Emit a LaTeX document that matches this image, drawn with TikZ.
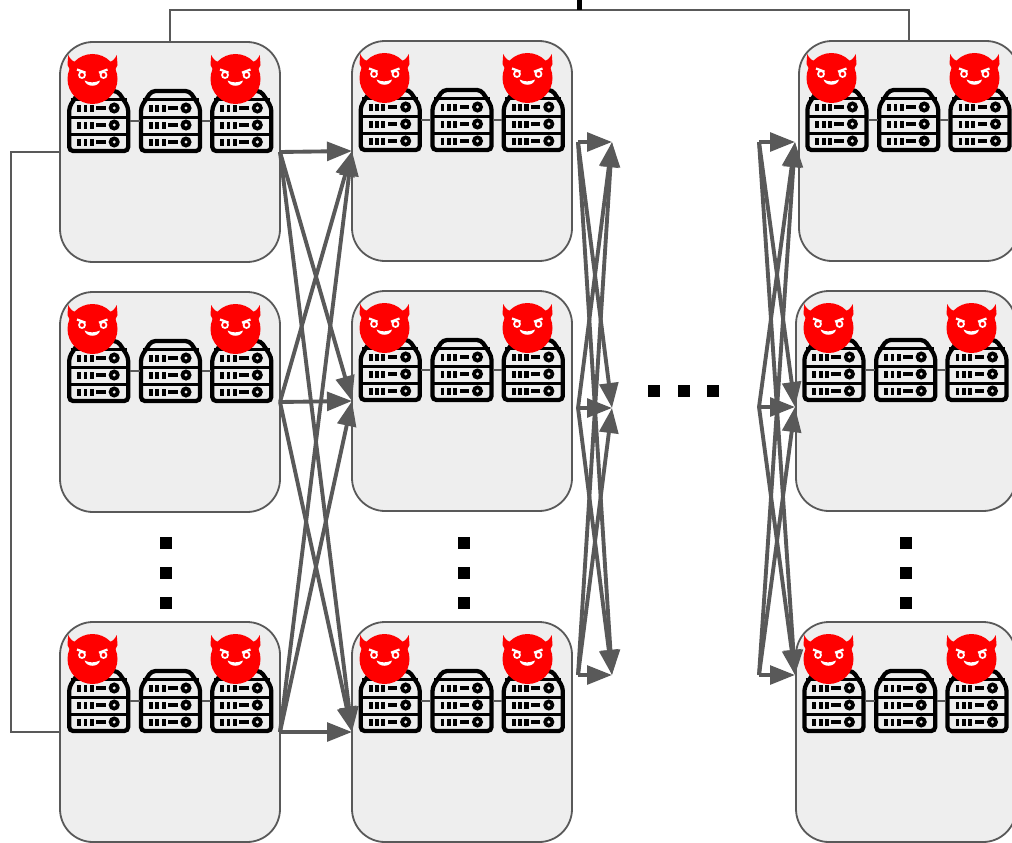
\documentclass[tikz,border=0pt]{standalone}
\usetikzlibrary{arrows.meta}
\definecolor{edgegray}{HTML}{595959}
\definecolor{boxfill}{HTML}{EEEEEE}
\tikzset{
  x=0.75pt, y=-0.75pt,
  cluster/.style={draw=edgegray, fill=boxfill, line width=1.35pt, rounded corners=24.75pt,
    minimum width=165pt, minimum height=165pt, inner sep=0pt, outer sep=0pt},
  thinlink/.style={draw=edgegray, line width=1.35pt},
  flow/.style={draw=edgegray, line width=2.9pt,
    -{Triangle[length=18.75pt,width=14pt,fill=edgegray]}},
  dotmark/.style={fill=black, minimum size=9pt, inner sep=0pt, outer sep=0pt},
  server/.pic={
    \node[minimum width=46.5pt, minimum height=47.5pt, inner sep=0pt, outer sep=0pt] (-box) at (0,0) {};
    \draw[black, line width=3.2pt, rounded corners=3pt]
      (-29.5,-14) -- (-19,-30) -- (19,-30) -- (29.5,-14) -- (29.5,30) -- (-29.5,30) -- cycle;
    \draw[black, line width=2.6pt] (-28,-21.5) -- (28,-21.5);
    \draw[black, line width=2.8pt] (-29.5,-3.5) -- (29.5,-3.5);
    \draw[black, line width=2.8pt] (-29.5,13.5) -- (29.5,13.5);
    \foreach \ry in {-13,4,21}{
      \fill[black] (-21.5,\ry-3.5) rectangle ++(3.8,7);
      \fill[black] (-15.2,\ry-3.5) rectangle ++(3.8,7);
      \fill[black] (-9,\ry-3.5) rectangle ++(4.2,7);
      \fill[black] (-2.5,\ry-1.8) rectangle ++(9.5,3.6);
      \fill[black] (15.5,\ry) circle[radius=5.6];
      \fill[boxfill] (15.5,\ry) circle[radius=1.7];
    }
  },
  devil/.pic={
    \fill[red] (0,0) circle[radius=25];
    \fill[red] (-22.5,-9) -- (-25,-14) -- (-24.3,-24) .. controls (-22.5,-20.5) and (-21,-18.5) .. (-17.5,-17) -- cycle;
    \fill[red] (22.5,-9) -- (25,-14) -- (24.3,-24) .. controls (22.5,-20.5) and (21,-18.5) .. (17.5,-17) -- cycle;
    \draw[white, line width=1.3pt] (-10.5,-4) circle[radius=3];
    \draw[white, line width=1.3pt] (11,-4) circle[radius=3];
    \draw[white, line width=1.7pt] (-15.5,-9.5) -- (-7,-6.3);
    \draw[white, line width=1.7pt] (15,-9.5) -- (6.5,-6.3);
    \fill[white] (-8,1.5) .. controls (-3,4) and (2,4) .. (7.5,1.5) .. controls (6,8.5) and (-6,8.5) .. (-8,1.5) -- cycle;
  }
}
\begin{document}
\begin{tikzpicture}
\clip (0,0) rectangle (1012,842);
\fill[white] (0,0) rectangle (1012,842);

% clusters
\node[cluster] (c11) at (170,152) {};
\node[cluster] (c12) at (170,402) {};
\node[cluster] (c13) at (170,732) {};
\node[cluster] (c21) at (462,151) {};
\node[cluster] (c22) at (462,401) {};
\node[cluster] (c23) at (462,732) {};
\node[cluster] (c31) at (909,151) {};
\node[cluster] (c32) at (906,401) {};
\node[cluster] (c33) at (906,732) {};

% thin links outside the clusters
\coordinate (topa) at (170,10);
\coordinate (topb) at (909,10);
\coordinate (lefta) at (11,152);
\coordinate (leftb) at (11,732);
\draw[thinlink] (c11.north) -- (topa) -- (topb) -- (c31.north);
\draw[thinlink] (c11.west) -- (lefta) -- (leftb) -- (c13.west);
\node[fill=black, minimum width=4.2pt, minimum height=7.5pt, inner sep=0pt, outer sep=0pt] (topbar) at (579.5,5) {};

% servers and devils
\foreach \n/\sx/\cy/\dx in {
  c11/170.5/152/170, c12/170.5/402/170, c13/170.5/732/170,
  c21/462/151/462, c22/462/401/462, c23/462/732/462,
  c31/908.7/151/909, c32/905.7/401/906, c33/905.7/732/906}{
  \pic (\n a) at ({\sx-71.8},{\cy-31}) {server};
  \pic (\n b) at ({\sx},{\cy-31}) {server};
  \pic (\n c) at ({\sx+71.3},{\cy-31}) {server};
  \draw[thinlink] (\n a-box) -- (\n b-box);
  \draw[thinlink] (\n b-box) -- (\n c-box);
  \pic at ({\dx-77.5},{\cy-73}) {devil};
  \pic at ({\dx+65.5},{\cy-73}) {devil};
}

% first hop
\foreach \s in {c11,c12,c13}{
  \foreach \t in {c21,c22,c23}{
    \draw[flow] (\s.east) -- (\t.west);
  }
}

% second hop (free ends)
\coordinate (ma) at (578,142);
\coordinate (mb) at (578,408);
\coordinate (mc) at (578,675);
\coordinate (na) at (612,142);
\coordinate (nb) at (612,408);
\coordinate (nc) at (612,675);
\foreach \s in {ma,mb,mc}{
  \foreach \t in {na,nb,nc}{
    \draw[flow] (\s) -- (\t);
  }
}

% last hop (free ends)
\coordinate (pa) at (759,142);
\coordinate (pb) at (759,407);
\coordinate (pc) at (759,675);
\coordinate (qa) at (795,142);
\coordinate (qb) at (795,407);
\coordinate (qc) at (795,675);
\foreach \s in {pa,pb,pc}{
  \foreach \t in {qa,qb,qc}{
    \draw[flow] (\s) -- (\t);
  }
}

% dots
\foreach \dotx/\tag in {166/a,464/b,906/c}{
  \foreach \doty in {543,573,603}{
    \node[dotmark] (dot\tag\doty) at (\dotx,\doty) {};
  }
}
\node[dotmark] (hdota) at (654,391) {};
\node[dotmark] (hdotb) at (684,391) {};
\node[dotmark] (hdotc) at (713,391) {};
\end{tikzpicture}
\end{document}
